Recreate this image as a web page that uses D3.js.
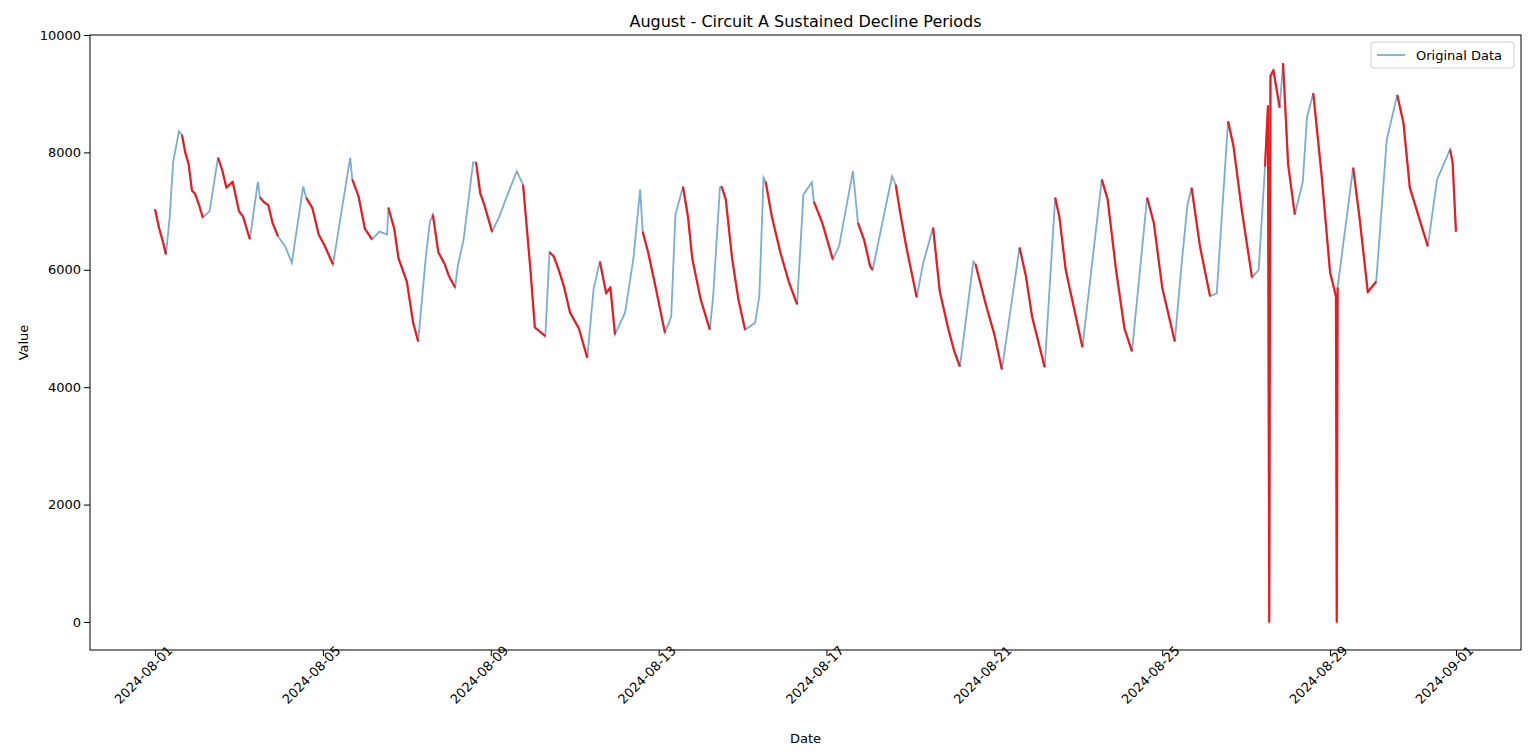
<!DOCTYPE html>
<html>
<head>
<meta charset="utf-8">
<script src="https://cdn.jsdelivr.net/npm/d3@7"></script>
<style>
  body { margin: 0; background: #fff; }
  text { font-family: "DejaVu Sans", sans-serif; }
</style>
</head>
<body>
<svg width="1536" height="754"></svg>
<script>
// days since 2024-08-01 00:00 and readings
const days = [0,0.1,0.18,0.26,0.35,0.43,0.57,0.64,0.72,0.8,0.88,0.95,1.05,1.14,1.3,1.5,1.6,1.7,1.85,2.0,2.1,2.26,2.45,2.5,2.6,2.7,2.8,2.93,3.1,3.26,3.53,3.6,3.75,3.9,4.05,4.24,4.4,4.65,4.7,4.85,5.0,5.17,5.35,5.53,5.56,5.7,5.8,6.0,6.15,6.27,6.45,6.55,6.62,6.75,6.9,7.0,7.15,7.22,7.35,7.58,7.65,7.75,7.85,8.03,8.2,8.4,8.62,8.77,8.95,9.05,9.3,9.4,9.5,9.62,9.75,9.89,10.1,10.3,10.45,10.6,10.75,10.85,10.96,11.2,11.4,11.56,11.62,11.75,11.9,12.15,12.3,12.4,12.5,12.58,12.7,12.8,13.0,13.22,13.3,13.46,13.5,13.6,13.75,13.9,14.06,14.3,14.4,14.5,14.55,14.7,14.9,15.1,15.3,15.45,15.65,15.7,15.9,16.15,16.3,16.63,16.75,16.9,17.04,17.1,17.56,17.65,17.75,17.9,18.15,18.3,18.54,18.7,18.9,19.05,19.18,19.5,19.55,19.8,20.0,20.18,20.6,20.75,20.9,21.2,21.45,21.55,21.7,22.1,22.56,22.7,22.9,23.1,23.28,23.64,23.8,24.0,24.3,24.45,24.6,24.7,24.9,25.14,25.3,25.57,25.7,25.9,26.14,26.3,26.45,26.52,26.55,26.58,26.65,26.8,26.88,27.0,27.16,27.35,27.45,27.6,27.8,28.0,28.14,28.16,28.18,28.55,28.7,28.9,29.1,29.35,29.6,29.75,29.9,30.33,30.55,30.86,30.92,31.0];
const values = [7030,6700,6500,6260,6900,7830,8360,8300,8000,7800,7350,7300,7100,6890,7000,7910,7700,7400,7500,7000,6900,6520,7500,7230,7150,7100,6800,6570,6400,6120,7420,7230,7050,6600,6400,6090,6800,7910,7540,7250,6700,6520,6650,6600,7060,6700,6200,5800,5100,4780,6200,6820,6940,6300,6100,5900,5700,6090,6500,7830,7830,7300,7100,6650,6900,7280,7680,7450,5960,5020,4870,6300,6230,6000,5700,5270,5000,4500,5670,6140,5600,5700,4900,5270,6200,7370,6650,6300,5800,4930,5200,6940,7200,7420,6900,6200,5500,4980,5550,7400,7420,7200,6200,5500,4980,5100,5550,7570,7500,6900,6300,5800,5410,7280,7490,7160,6800,6180,6400,7680,6800,6500,6060,6000,7590,7450,7000,6400,5530,6100,6720,5630,5000,4600,4350,6140,6100,5400,4900,4300,6380,5900,5200,4340,7230,6900,6000,4680,7540,7200,6000,5000,4610,7230,6800,5700,4780,6000,7100,7400,6400,5550,5600,8530,8100,7000,5870,6000,7760,8790,0,9300,9400,8760,9520,7800,6940,7500,8600,9010,7600,5960,5550,0,5700,7740,6900,5620,5800,8210,8980,8500,7400,6400,7540,8050,7830,6650];
// sustained decline periods (start day, end day)
const declines = [[0,0.26],[0.64,1.14],[1.5,2.26],[2.5,2.93],[3.6,4.24],[4.7,5.17],[5.56,6.27],[6.62,7.15],[7.65,8.03],[8.77,9.3],[9.4,10.3],[10.6,10.96],[11.62,12.15],[12.58,13.22],[13.5,14.06],[14.55,15.3],[15.7,16.15],[16.75,17.1],[17.65,18.15],[18.54,19.18],[19.55,20.18],[20.6,21.2],[21.45,22.1],[22.56,23.28],[23.64,24.3],[24.7,25.14],[25.57,26.14],[26.45,26.8],[26.88,27.16],[27.6,28.18],[28.55,29.1],[29.6,30.33],[30.86,31.0]];
const xTickDates = ["2024-08-01","2024-08-05","2024-08-09","2024-08-13","2024-08-17","2024-08-21","2024-08-25","2024-08-29","2024-09-01"];
const yTicks = [0,2000,4000,6000,8000,10000];

const L = 90, R = 1521, T = 35, B = 650;
const t0 = new Date(2024, 7, 1);
const data = days.map((d, i) => ({ date: new Date(t0.getTime() + d * 864e5), day: d, value: values[i] }));
const svg = d3.select("svg");

const x = d3.scaleTime()
  .domain([new Date(t0.getTime() - 1.55 * 864e5), new Date(t0.getTime() + 32.55 * 864e5)])
  .range([L, R]);
const y = d3.scaleLinear().domain([-477, 10000]).range([B, T]);

const line = d3.line().x(d => x(d.date)).y(d => y(d.value));

svg.append("path").datum(data)
  .attr("d", line).attr("fill", "none")
  .attr("stroke", "#1f77b4").attr("stroke-opacity", 0.6).attr("stroke-width", 1.8);

declines.forEach(p => {
  const seg = data.filter(d => d.day >= p[0] - 1e-9 && d.day <= p[1] + 1e-9);
  svg.append("path").datum(seg)
    .attr("d", line).attr("fill", "none")
    .attr("stroke", "red").attr("stroke-opacity", 0.85).attr("stroke-width", 2.2)
    .attr("stroke-linejoin", "round");
});

const parse = d3.timeParse("%Y-%m-%d");
const xAxis = d3.axisBottom(x).tickValues(xTickDates.map(parse)).tickFormat(d3.timeFormat("%Y-%m-%d")).tickSizeOuter(0);
const gx = svg.append("g").attr("transform", "translate(0," + B + ")").call(xAxis);
gx.selectAll("text").attr("font-size", 13).attr("text-anchor", "end")
  .attr("dx", "0.9em").attr("dy", "0.35em").attr("transform", "rotate(-45)");

const yAxis = d3.axisLeft(y).tickValues(yTicks).tickFormat(d3.format("d")).tickSizeOuter(0);
const gy = svg.append("g").attr("transform", "translate(" + L + ",0)").call(yAxis);
gy.selectAll("text").attr("font-size", 13);
svg.selectAll(".domain").remove();
svg.selectAll(".tick line").attr("stroke", "#000");
svg.selectAll(".tick text").attr("fill", "#000").attr("font-family", "DejaVu Sans");

svg.append("rect").attr("x", L).attr("y", T).attr("width", R - L).attr("height", B - T)
  .attr("fill", "none").attr("stroke", "#000").attr("stroke-width", 1);

svg.append("text").attr("x", (L + R) / 2).attr("y", 27).attr("text-anchor", "middle")
  .attr("font-size", 16).text("August - Circuit A Sustained Decline Periods");
svg.append("text").attr("x", (L + R) / 2).attr("y", 743).attr("text-anchor", "middle")
  .attr("font-size", 13).text("Date");
svg.append("text").attr("transform", "translate(28," + (T + B) / 2 + ") rotate(-90)")
  .attr("text-anchor", "middle").attr("font-size", 13).text("Value");

const lg = svg.append("g").attr("transform", "translate(1371,42)");
lg.append("rect").attr("width", 143).attr("height", 26).attr("rx", 3)
  .attr("fill", "#fff").attr("fill-opacity", 0.8).attr("stroke", "#ccc");
lg.append("line").attr("x1", 6).attr("x2", 34).attr("y1", 13).attr("y2", 13)
  .attr("stroke", "#1f77b4").attr("stroke-opacity", 0.6).attr("stroke-width", 1.8);
lg.append("text").attr("x", 45).attr("y", 17.5).attr("font-size", 13).text("Original Data");
</script>
</body>
</html>
